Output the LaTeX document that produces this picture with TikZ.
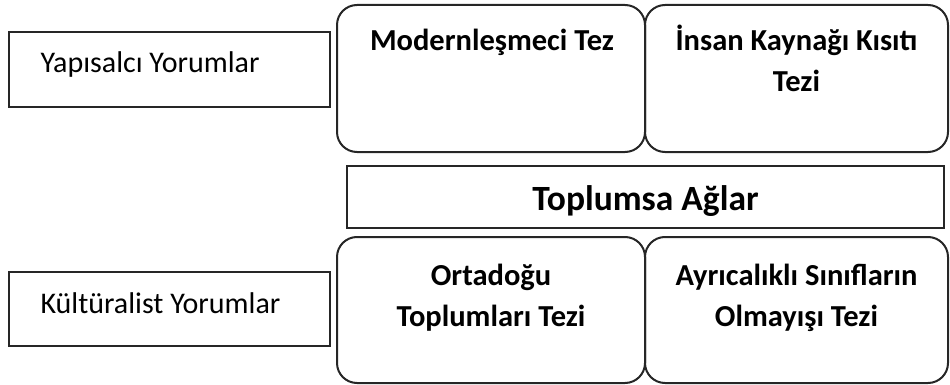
\documentclass[tikz,border=0pt]{standalone}
\usepackage{fontspec}
\setmainfont{Carlito}
\begin{document}
\begin{tikzpicture}[x=1pt,y=-1pt,
  sqbox/.style={draw=black!85, line width=2pt, inner sep=0pt},
  rbox/.style={draw=black!85, line width=2pt, rounded corners=20pt, inner sep=0pt},
  lbl/.style={font=\fontsize{30}{36}\selectfont, anchor=base west},
  bt/.style={font=\bfseries\fontsize{30.5}{43}\selectfont, anchor=base}]
\useasboundingbox (0,0) rectangle (950,385);
% left boxes
\node[sqbox, minimum width=321pt, minimum height=75pt] (yap) at (169.5,69.5) {};
\node[sqbox, minimum width=321pt, minimum height=74pt] (kul) at (169.5,309) {};
\node[lbl] (yapt) at (37,73) {Yapısalcı Yorumlar};
\node[lbl] (kult) at (37,313) {Kültüralist Yorumlar};
% top rounded boxes
\node[rbox, minimum width=308pt, minimum height=147pt] (mod) at (491,78.5) {};
\node[rbox, minimum width=303pt, minimum height=147pt] (ins) at (796.5,78.5) {};
\node[bt] (modt) at (492,51) {Modernleşmeci Tez};
\node[bt] (inst1) at (796.5,51) {İnsan Kaynağı Kısıtı};
\node[bt] (inst2) at (796.5,92) {Tezi};
% middle box
\node[sqbox, minimum width=597pt, minimum height=62pt] (top) at (645.5,197) {};
\node[font=\bfseries\fontsize{35.5}{40}\selectfont, anchor=base] (topt) at (645.5,210) {Toplumsa Ağlar};
% bottom rounded boxes
\node[rbox, minimum width=308pt, minimum height=146pt] (ort) at (491,310) {};
\node[rbox, minimum width=303pt, minimum height=146pt] (ayr) at (796.5,310) {};
\node[bt] (ort1) at (491,285) {Ortadoğu};
\node[bt] (ort2) at (491,326) {Toplumları Tezi};
\node[bt] (ayr1) at (796.5,285) {Ayrıcalıklı Sınıfların};
\node[bt] (ayr2) at (796.5,326) {Olmayışı Tezi};
\end{tikzpicture}
\end{document}
